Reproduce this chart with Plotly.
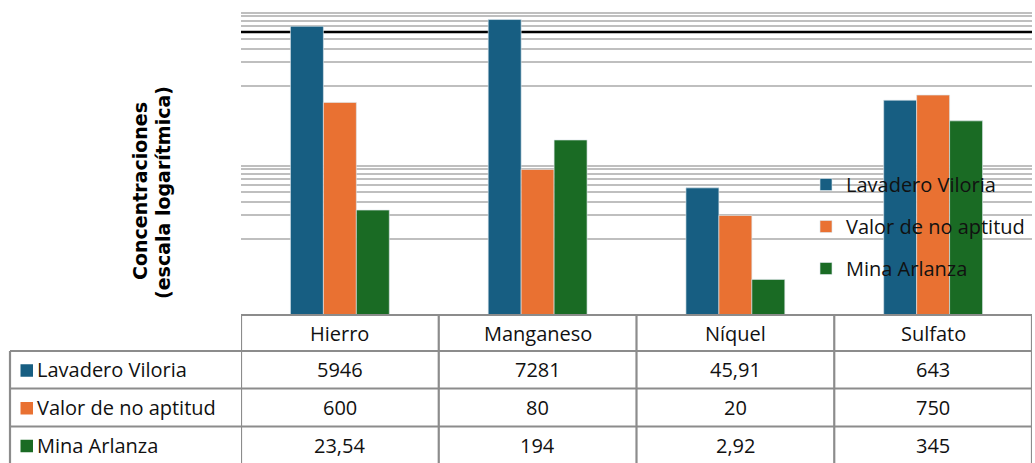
import plotly.graph_objects as go

categories = ["Hierro", "Manganeso", "Níquel", "Sulfato"]
series_names = ["Lavadero Viloria", "Valor de no aptitud", "Mina Arlanza"]
lavadero = [5946, 7281, 45.91, 643]
valor = [600, 80, 20, 750]
mina = [23.54, 194, 2.92, 345]
table_labels = {
    "Lavadero Viloria": ["5946", "7281", "45,91", "643"],
    "Valor de no aptitud": ["600", "80", "20", "750"],
    "Mina Arlanza": ["23,54", "194", "2,92", "345"],
}
colors = ["#175e82", "#e97132", "#1a6b24"]
grid_vals = [10, 20, 30, 40, 50, 60, 70, 80, 90,
             1000, 2000, 3000, 4000, 6000, 7000, 8000, 9000, 10000]
threshold = 5000

W, H = 1035, 463
L, R, T, B = 241, 3, 9, 148
plot_h = H - T - B

def py(p):
    return (H - B - p) / plot_h

def px(p):
    return (p - L) / (W - L - R)

fig = go.Figure()
for name, vals, c in zip(series_names, [lavadero, valor, mina], colors):
    fig.add_trace(go.Bar(
        x=categories, y=vals, name=name, legendgroup=name,
        marker=dict(color=c, line=dict(color="rgba(220,230,235,0.8)", width=0.8)),
    ))

shapes = []
ann = []
shapes.append(dict(type="line", xref="paper", x0=0, x1=1, yref="y", y0=threshold, y1=threshold,
                   line=dict(color="black", width=2.5), layer="below"))

tcol = "#8c8c8c"
tw = 2.2
row_y = [315, 351, 388.5, 426.5, 464]
shapes.append(dict(type="line", xref="x", x0=-0.5, x1=3.5, yref="paper", y0=py(315), y1=py(315),
                   line=dict(color=tcol, width=tw)))
for yy in row_y[1:4]:
    shapes.append(dict(type="line", xref="paper", x0=px(10), x1=1, yref="paper", y0=py(yy), y1=py(yy),
                       line=dict(color=tcol, width=tw)))
for i in range(5):
    shapes.append(dict(type="line", xref="x", x0=i - 0.5, x1=i - 0.5, yref="paper",
                       y0=py(315), y1=py(470), line=dict(color=tcol, width=tw)))
shapes.append(dict(type="line", xref="paper", x0=px(10), x1=px(10), yref="paper",
                   y0=py(351), y1=py(470), line=dict(color=tcol, width=tw)))

font_tbl = dict(family="Open Sans", size=20, color="#111111")
for i, c in enumerate(categories):
    ann.append(dict(x=c, xref="x", y=py((row_y[0] + row_y[1]) / 2), yref="paper", text=c,
                    xanchor="center", yanchor="middle", showarrow=False, font=font_tbl))
for r, (name, col) in enumerate(zip(series_names, colors)):
    yc = (row_y[r + 1] + row_y[r + 2]) / 2
    for i, c in enumerate(categories):
        ann.append(dict(x=c, xref="x", y=py(yc), yref="paper", text=table_labels[name][i],
                        xanchor="center", yanchor="middle", showarrow=False, font=font_tbl))
    ann.append(dict(x=px(35), xref="paper", xanchor="left", y=py(yc), yanchor="middle",
                    yref="paper", text=name, showarrow=False, font=font_tbl))
    shapes.append(dict(type="rect", xref="paper", yref="paper", x0=px(20.5), x1=px(33),
                       y0=py(yc + 7), y1=py(yc - 5.5), fillcolor=col, line=dict(width=0)))

title_font = dict(family="DejaVu Sans", size=19, color="black")
ann.append(dict(x=px(140), xref="paper", y=py(191), yref="paper", textangle=-90,
                xanchor="center", yanchor="middle",
                text="<b>Concentraciones</b>", showarrow=False, font=title_font))
ann.append(dict(x=px(163), xref="paper", y=py(193), yref="paper", textangle=-90,
                xanchor="center", yanchor="middle",
                text="<b>(escala logarítmica)</b>", showarrow=False, font=title_font))

fig.update_layout(
    width=W, height=H, margin=dict(l=L, r=R, t=T, b=B),
    paper_bgcolor="white", plot_bgcolor="white",
    barmode="group", bargap=0.5, bargroupgap=0,
    shapes=shapes, annotations=ann,
    legend=dict(x=px(806), y=py(165), xanchor="left", yanchor="top",
                bgcolor="rgba(0,0,0,0)", traceorder="grouped", tracegroupgap=13,
                font=dict(family="Open Sans", size=20, color="#111111")),
    xaxis=dict(range=[-0.5, 3.5], showticklabels=False, showgrid=False, zeroline=False,
               showline=False, ticks=""),
    yaxis=dict(type="log", range=[0, 4], tickvals=grid_vals, showticklabels=False,
               showgrid=True, gridcolor="#bfbfbf", gridwidth=1.6, zeroline=False,
               showline=False, ticks=""),
)
fig.write_html("out.html", config={"displayModeBar": False},
               post_script="document.body.style.margin='0';document.body.style.overflow='hidden';")
